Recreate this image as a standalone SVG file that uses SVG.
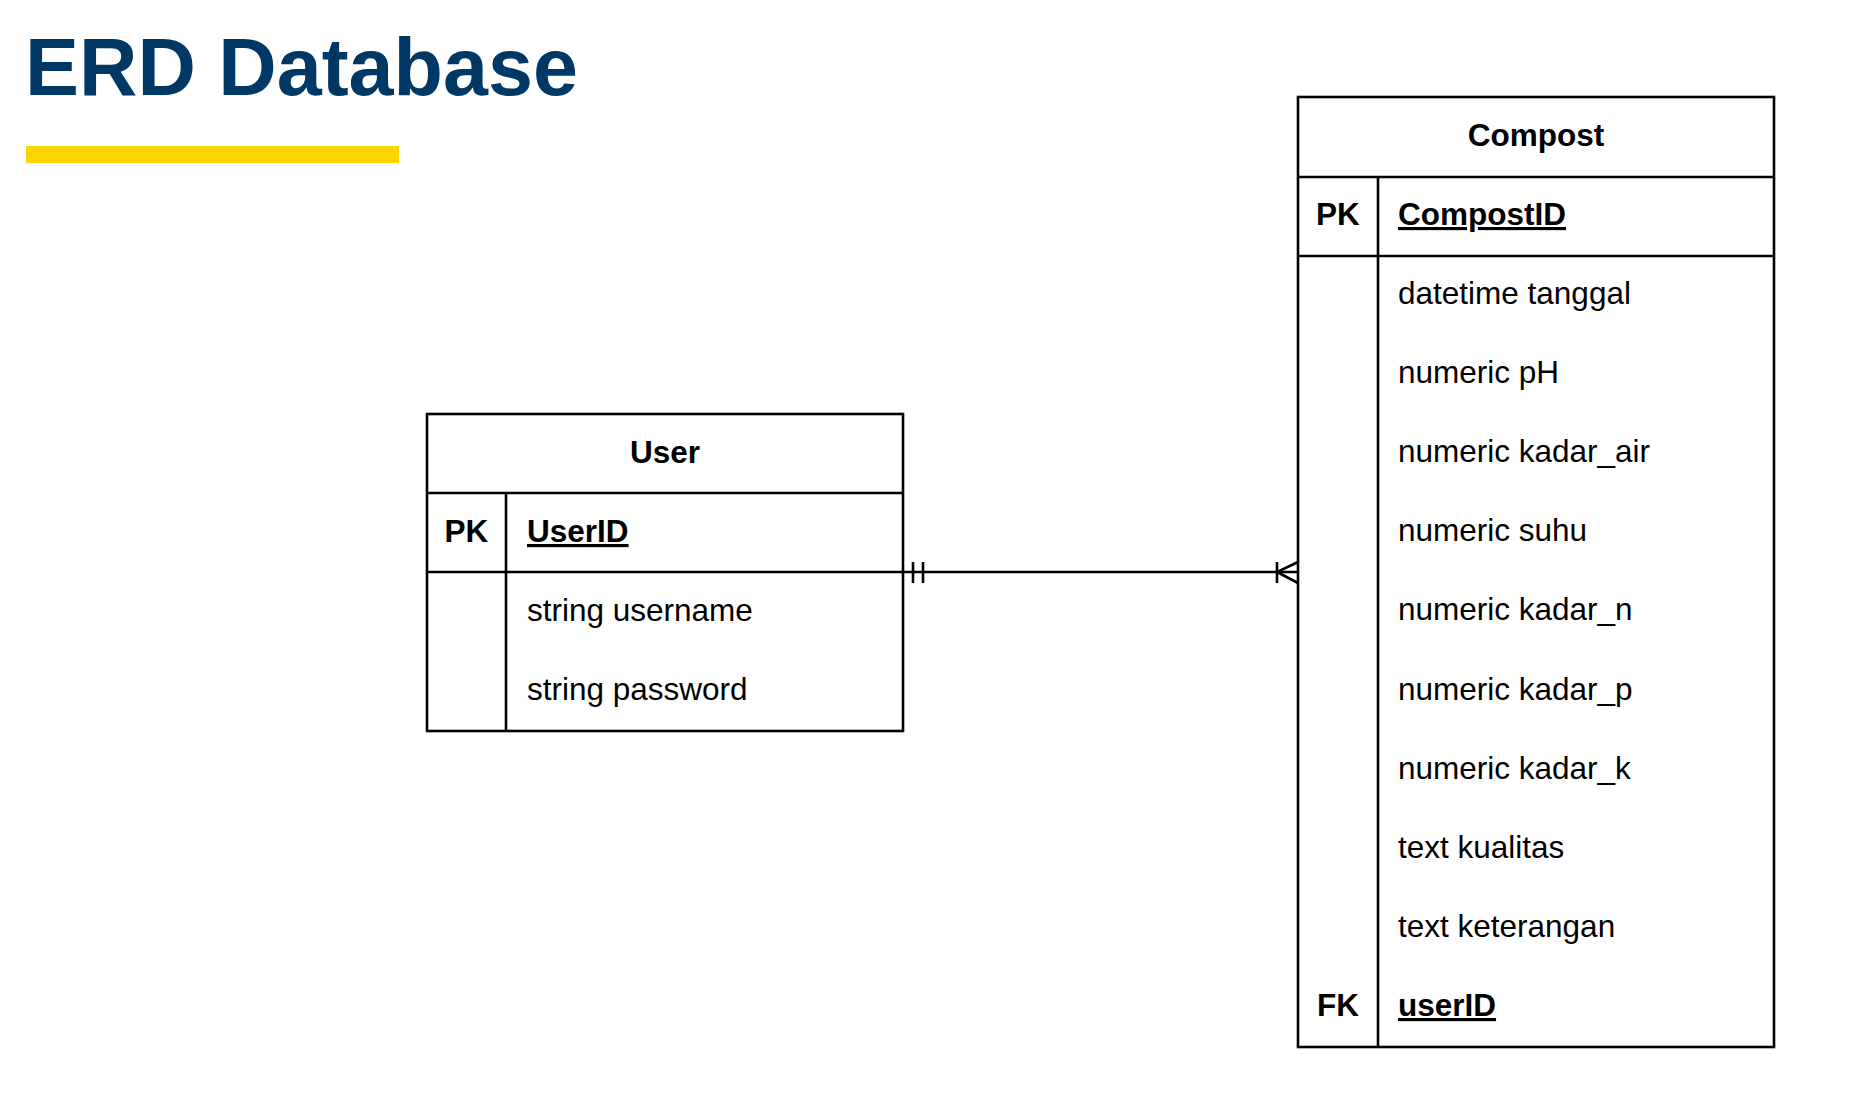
<svg xmlns="http://www.w3.org/2000/svg" width="1854" height="1113" viewBox="0 0 1854 1113">
<style>
  .box { fill: #ffffff; stroke: #000000; stroke-width: 2.6; }
  .ln { stroke: #000000; stroke-width: 2.6; fill: none; }
  .t { font-family: "Liberation Sans", Arial, sans-serif; font-size: 31.5px; fill: #000000; }
  .b { font-weight: bold; }
  .c { text-anchor: middle; }
  .u { text-decoration: underline; }
  .title { font-family: "Liberation Sans", Arial, sans-serif; font-size: 82px; font-weight: bold; fill: #003865; }
</style>
<rect width="1854" height="1113" fill="#ffffff"/>
<g id="title">
  <text class="title" x="25" y="95" textLength="553" lengthAdjust="spacingAndGlyphs">ERD Database</text>
  <rect x="26" y="146" width="373" height="17" fill="#FFD500"/>
</g>
<g id="connectors">
  <line class="ln" x1="903" y1="572" x2="1298" y2="572"/>
  <line class="ln" x1="913" y1="562" x2="913" y2="583"/>
  <line class="ln" x1="923" y1="562" x2="923" y2="583"/>
  <line class="ln" x1="1277" y1="562" x2="1277" y2="583"/>
  <polyline class="ln" points="1298,562 1277,572 1298,583"/>
</g>
<g id="user">
  <rect class="box" x="427" y="414" width="476" height="317"/>
  <line class="ln" x1="427" y1="493" x2="903" y2="493"/>
  <line class="ln" x1="427" y1="572" x2="903" y2="572"/>
  <line class="ln" x1="506" y1="493" x2="506" y2="731"/>
  <text class="t b c" x="665" y="463">User</text>
  <text class="t b c" x="466.5" y="542">PK</text>
  <text class="t b u" x="527" y="542">UserID</text>
  <text class="t" x="527" y="621">string username</text>
  <text class="t" x="527" y="700">string password</text>
</g>
<g id="compost">
  <rect class="box" x="1298" y="97" width="476" height="950"/>
  <line class="ln" x1="1298" y1="177" x2="1774" y2="177"/>
  <line class="ln" x1="1298" y1="256" x2="1774" y2="256"/>
  <line class="ln" x1="1378" y1="177" x2="1378" y2="1047"/>
  <text class="t b c" x="1536" y="146">Compost</text>
  <text class="t b c" x="1338" y="225">PK</text>
  <text class="t b u" x="1398" y="225">CompostID</text>
  <text class="t" x="1398" y="304">datetime tanggal</text>
  <text class="t" x="1398" y="383">numeric pH</text>
  <text class="t" x="1398" y="462">numeric kadar_air</text>
  <text class="t" x="1398" y="541">numeric suhu</text>
  <text class="t" x="1398" y="620">numeric kadar_n</text>
  <text class="t" x="1398" y="700">numeric kadar_p</text>
  <text class="t" x="1398" y="779">numeric kadar_k</text>
  <text class="t" x="1398" y="858">text kualitas</text>
  <text class="t" x="1398" y="937">text keterangan</text>
  <text class="t b c" x="1338" y="1016">FK</text>
  <text class="t b u" x="1398" y="1016">userID</text>
</g>
</svg>
